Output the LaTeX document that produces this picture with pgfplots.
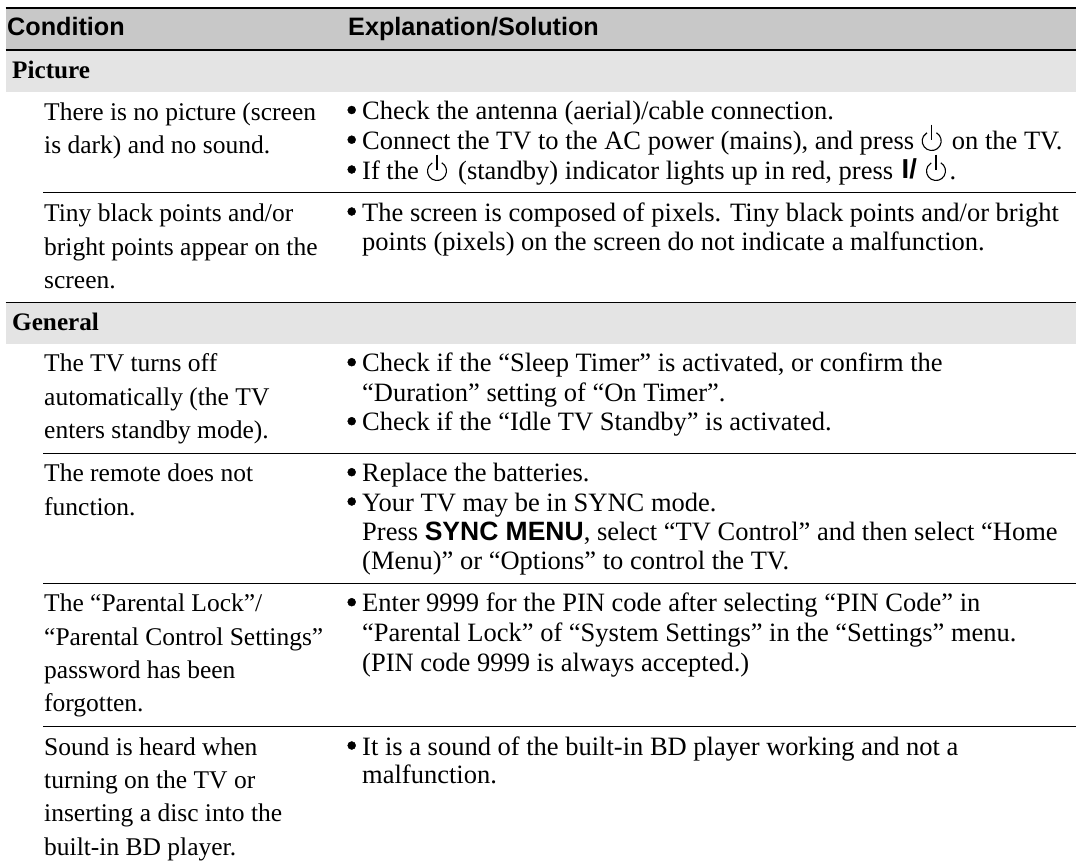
\documentclass[border=0pt]{standalone}
\usepackage{pgfplots}
\pgfplotsset{compat=1.18}
\usepackage{fontspec}
\setmainfont{Liberation Serif}
\newfontfamily\hd{Liberation Sans}[Scale=1]
\definecolor{hdr}{HTML}{C8C8C8}
\definecolor{sub}{HTML}{E4E4E4}
\newcommand{\T}[3]{\node[anchor=base west,inner sep=0pt,font=\fontsize{25.5pt}{30pt}\selectfont] at (axis cs:#1,#2) {#3};}
\newcommand{\R}[3]{\node[anchor=base west,inner sep=0pt,font=\fontsize{26.5pt}{30pt}\selectfont] at (axis cs:#1,#2) {#3};}
\newcommand{\Hd}[3]{\node[anchor=base west,inner sep=0pt,font=\fontsize{25.2pt}{30pt}\selectfont\hd\bfseries] at (axis cs:#1,#2) {#3};}
\newcommand{\Sb}[3]{\node[anchor=base west,inner sep=0pt,font=\fontsize{25.2pt}{30pt}\selectfont\bfseries] at (axis cs:#1,#2) {#3};}
\newcommand{\Pw}[2]{\draw[line width=1.1pt] (axis cs:#1+4.75,#2-8.23) arc[start angle=-60,end angle=240,radius=9.5]; \draw[line width=1.3pt] (axis cs:#1,#2-16.5) -- (axis cs:#1,#2-1.5);}
\begin{document}
\begin{tikzpicture}
\begin{axis}[name=a,scale only axis,width=1076pt,height=863pt,xmin=0,xmax=1076,ymin=0,ymax=863,y dir=reverse,hide axis,clip=false]
\addplot[fill=hdr,draw=none,mark=none] coordinates {(5.5,9)(1076,9)(1076,50)(5.5,50)} --cycle;
\addplot[fill=sub,draw=none,mark=none] coordinates {(5.5,50)(1076,50)(1076,92)(5.5,92)} --cycle;
\addplot[fill=sub,draw=none,mark=none] coordinates {(5.5,302)(1076,302)(1076,343.5)(5.5,343.5)} --cycle;
\addplot[black,line width=2.2pt,mark=none] coordinates {(5.5,8)(1076,8)};
\addplot[black,line width=2pt,mark=none] coordinates {(5.5,50)(1076,50)};
\addplot[black,line width=1pt,mark=none] coordinates {(5.5,302)(1076,302)};
\addplot[black,line width=1pt,mark=none] coordinates {(43,192)(1076,192)};
\addplot[black,line width=1pt,mark=none] coordinates {(43,453.3)(1076,453.3)};
\addplot[black,line width=1pt,mark=none] coordinates {(43,583.3)(1076,583.3)};
\addplot[black,line width=1pt,mark=none] coordinates {(43,726.5)(1076,726.5)};
\addplot[only marks,mark=*,mark size=4pt,black] coordinates {(351.7,110)(351.7,139.7)(351.7,169.5)(351.7,211.5)(351.7,362.2)(351.7,421.2)(351.7,472.2)(351.7,501.5)(351.7,602.2)(351.7,745.5)};
\Hd{7}{35.7}{Condition}
\Hd{348}{35.7}{Explanation/Solution}
\Sb{12}{78.3}{Picture}
\Sb{12}{330}{General}
% left column
\T{44}{120}{There is no picture (screen}
\T{44}{153.3}{is dark) and no sound.}
\T{44}{221}{Tiny black points and/or}
\T{44}{255}{bright points appear on the}
\T{44}{288}{screen.}
\T{44}{371.7}{The TV turns off}
\T{44}{405}{automatically (the TV}
\T{44}{438.3}{enters standby mode).}
\T{44}{481.7}{The remote does not}
\T{44}{515}{function.}
\T{44}{611.7}{The “Parental Lock”/}
\T{44}{645}{“Parental Control Settings”}
\T{44}{678.3}{password has been}
\T{44}{711.7}{forgotten.}
\T{44}{755}{Sound is heard when}
\T{44}{788.3}{turning on the TV or}
\T{44}{821.7}{inserting a disc into the}
\T{44}{855}{built-in BD player.}
% right column
\R{362}{119.5}{Check the antenna (aerial)/cable connection.}
\R{362}{149.2}{Connect the TV to the AC power (mains), and press}
\Pw{931.7}{141}\R{951.7}{149.2}{on the TV.}
\R{362}{179}{If the}
\Pw{437}{171}\R{458}{179}{(standby) indicator lights up in red, press}
\node[anchor=base west,inner sep=0pt,font=\fontsize{27.4pt}{30pt}\selectfont\hd\bfseries] at (axis cs:901.5,178.5) {I/};
\Pw{936}{171}\R{949.5}{179}{.}
\R{362}{221}{The screen is composed of pixels. Tiny black points and/or bright}
\R{362}{250.7}{points (pixels) on the screen do not indicate a malfunction.}
\R{362}{371.7}{Check if the “Sleep Timer” is activated, or confirm the}
\R{362}{401.7}{“Duration” setting of “On Timer”.}
\R{362}{430.7}{Check if the “Idle TV Standby” is activated.}
\R{362}{481.7}{Replace the batteries.}
\R{362}{511}{Your TV may be in SYNC mode.}
\R{362}{540}{Press {\hd\bfseries SYNC MENU}, select “TV Control” and then select “Home}
\R{362}{569.3}{(Menu)” or “Options” to control the TV.}
\R{362}{611.7}{Enter 9999 for the PIN code after selecting “PIN Code” in}
\R{362}{641.7}{“Parental Lock” of “System Settings” in the “Settings” menu.}
\R{362}{671}{(PIN code 9999 is always accepted.)}
\R{362}{755}{It is a sound of the built-in BD player working and not a}
\R{362}{783.3}{malfunction.}
\end{axis}
\pgfresetboundingbox
\useasboundingbox (a.south west) rectangle (a.north east);
\end{tikzpicture}
\end{document}
